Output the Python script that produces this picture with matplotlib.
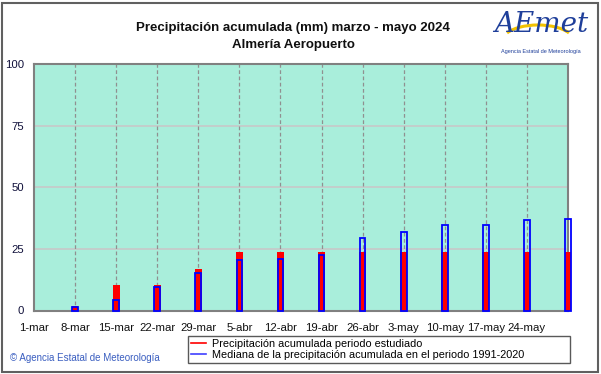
import matplotlib
matplotlib.use("Agg")
import matplotlib.pyplot as plt
from matplotlib.patches import Rectangle, Arc
from matplotlib.lines import Line2D
import numpy as np

plt.rcParams['font.family'] = ['Liberation Sans', 'DejaVu Sans']

# ---- data ----
tick_labels = ['1-mar', '8-mar', '15-mar', '22-mar', '29-mar', '5-abr', '12-abr',
               '19-abr', '26-abr', '3-may', '10-may', '17-may', '24-may']
bar_weeks = [1, 2, 3, 4, 5, 6, 7, 8, 9, 10, 11, 12, 13]  # week index of each bar (8-mar .. 31-may)
observed = [1.8, 10.4, 10.2, 16.7, 23.9, 23.9, 23.9, 23.9, 23.9, 23.9, 23.9, 23.9, 23.9]
median = [1.3, 4.3, 9.7, 15.1, 20.5, 20.8, 22.4, 29.3, 31.8, 34.8, 34.8, 36.8, 37.3]
y_ticks = [0, 25, 50, 75, 100]

W, H = 601, 374
fig = plt.figure(figsize=(W / 100, H / 100), dpi=100)
fig.patch.set_facecolor('white')

ax = fig.add_axes([34 / W, 1 - 310.5 / H, (568 - 34) / W, (310.5 - 64) / H])
ax.set_facecolor('#a9eedb')
ax.set_xlim(0, 13)
ax.set_ylim(0, 100)

# grid
for yv in y_ticks[1:-1]:
    ax.axhline(yv, color='#c8c8c8', lw=1.2, zorder=1)
for i in range(1, len(tick_labels)):
    ax.axvline(i, color='#909090', lw=0.9, ls=(0, (3, 2)), zorder=1)

ax.bar(bar_weeks, observed, width=0.165, color='#ff0000', zorder=3, clip_on=False)
ax.bar(bar_weeks, median, width=0.14, facecolor='none', edgecolor='#0000ff',
       linewidth=1.3, zorder=4, clip_on=False)

ax.set_xticks(range(len(tick_labels)))
ax.set_xticklabels(tick_labels, fontsize=8.2, color='#101010')
ax.set_yticks(y_ticks)
ax.set_yticklabels([str(v) for v in y_ticks], fontsize=8.2, color='#10103a')
ax.tick_params(axis='both', length=0)
ax.tick_params(axis='x', pad=9)
ax.tick_params(axis='y', pad=7)
for s in ax.spines.values():
    s.set_color('#808080')
    s.set_linewidth(1.5)

# titles
fig.text(293 / W, 1 - 28 / H, 'Precipitación acumulada (mm) marzo - mayo 2024',
         ha='center', va='center', fontsize=9.5, fontweight='bold', color='#101010')
fig.text(293 / W, 1 - 45 / H, 'Almería Aeropuerto',
         ha='center', va='center', fontsize=9.5, fontweight='bold', color='#101010')

# logo (text approximation)
fig.text(541 / W, 1 - 24 / H, 'AEmet', ha='center', va='center', fontsize=20,
         style='italic', color='#1f3f9a', family='DejaVu Serif')
arc = Arc((538 / W, 1 - 40 / H), 70 / W, 30 / H, theta1=20, theta2=160,
          transform=fig.transFigure, color='#f2c200', lw=2.2)
fig.add_artist(arc)
fig.text(541 / W, 1 - 52 / H, 'Agencia Estatal de Meteorología', ha='center',
         va='center', fontsize=4, color='#1f3f9a')

# copyright
fig.text(10 / W, 1 - 358 / H, '© Agencia Estatal de Meteorología', ha='left',
         va='center', fontsize=7, color='#3a5ec0')

# legend
handles = [Line2D([], [], color='#ff0000', lw=1.2),
           Line2D([], [], color='#4040ff', lw=1.2)]
leg = fig.legend(handles,
                 ['Precipitación acumulada periodo estudiado',
                  'Mediana de la precipitación acumulada en el periodo 1991-2020'],
                 loc='center', bbox_to_anchor=(188 / W, 1 - 366 / H, 382 / W, 33 / H),
                 mode='expand', fontsize=7.8, frameon=True, fancybox=False,
                 handlelength=1.4, handletextpad=0.6, labelspacing=0.1,
                 borderpad=0.25, borderaxespad=0)
leg.get_frame().set_edgecolor('#303030')
leg.get_frame().set_linewidth(1.0)

# outer border
fig.add_artist(Rectangle((2 / W, 2 / H), (W - 5) / W, (H - 5) / H, transform=fig.transFigure,
                         fill=False, edgecolor='#606060', lw=1.5))

fig.savefig('out.png', dpi=100)
